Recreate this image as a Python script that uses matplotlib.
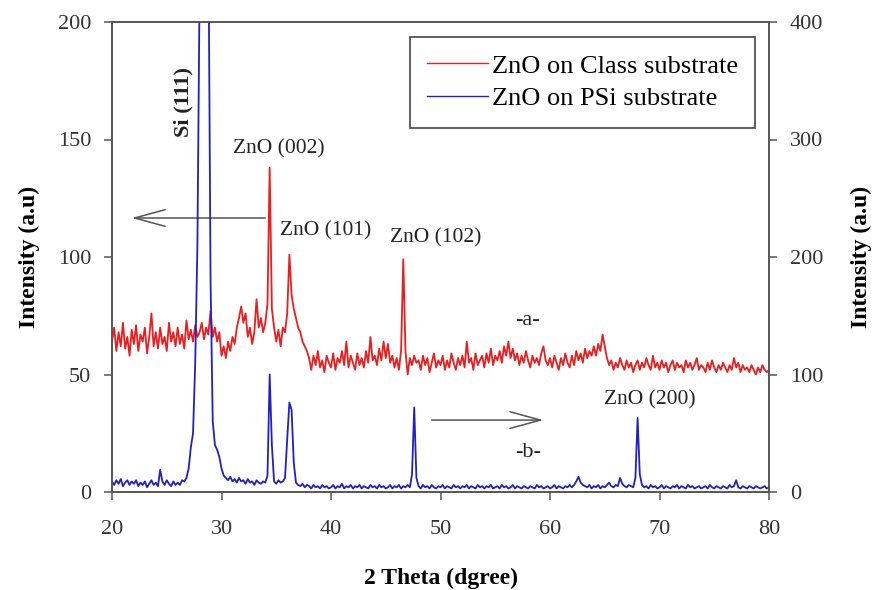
import numpy as np
import matplotlib
matplotlib.use("Agg")
import matplotlib.pyplot as plt

plt.rcParams['font.family'] = ['Liberation Serif', 'DejaVu Serif']

# 2 theta grid, 0.2 degree step from 20 to 80
two_theta = np.round(np.arange(20.0, 80.0001, 0.2), 1)

# ZnO on glass substrate (left axis)
glass = [
    64, 70, 60, 68, 62, 72, 61, 66, 58, 69,
    63, 71, 60, 67, 64, 70, 59, 66, 76, 62,
    68, 61, 70, 63, 66, 60, 72, 64, 68, 62,
    70, 63, 67, 61, 73, 65, 69, 64, 71, 66,
    68, 72, 65, 70, 67, 77, 66, 70, 64, 68,
    58, 62, 57, 64, 60, 66, 63, 70, 74, 79,
    72, 76, 66, 70, 63, 68, 82, 70, 74, 68,
    72, 80, 138, 78, 70, 64, 69, 62, 70, 68,
    76, 101, 84, 78, 74, 70, 68, 64, 62, 60,
    57, 52, 58, 54, 60, 53, 56, 51, 58, 55,
    53, 59, 52, 57, 55, 60, 54, 64, 53, 58,
    55, 52, 59, 54, 57, 53, 60, 55, 66, 56,
    58, 54, 61, 56, 64, 57, 63, 55, 58, 53,
    57, 52, 60, 99, 60, 50, 57, 54, 58, 55,
    56, 52, 58, 54, 57, 51, 55, 59, 53, 56,
    54, 58, 52, 56, 53, 59, 55, 52, 57, 54,
    58, 53, 64, 55, 57, 52, 59, 54, 56, 58,
    53, 59, 55, 61, 54, 58, 56, 60, 55, 62,
    58, 64, 57, 61, 56, 59, 54, 58, 55, 60,
    56, 53, 58, 55, 57, 54, 59, 62, 56, 54,
    57, 53, 58, 55, 52, 57, 54, 59, 55, 53,
    58, 54, 60, 56, 59, 55, 61, 57, 60, 58,
    62, 58, 63, 60, 67, 62, 57, 54, 56, 52,
    55, 53, 57, 54, 52, 56, 53, 55, 51, 54,
    56, 52, 55, 53, 57, 54, 52, 58, 53, 55,
    52, 56, 53, 55, 51, 54, 56, 52, 55, 53,
    54, 51, 56, 53, 55, 52, 54, 57, 52, 54,
    53, 51, 55, 52, 56, 53, 51, 54, 52, 55,
    53, 51, 54, 52, 57, 53, 55, 51, 54, 52,
    53, 51, 54, 52, 50, 53, 51, 54, 52, 51,
    52,
]

# ZnO on porous silicon substrate (right axis)
psi = [
    9, 6, 10, 7, 11, 5, 8, 10, 6, 9,
    7, 10, 5, 8, 6, 9, 4, 7, 10, 6,
    8, 5, 19, 9, 6, 10, 7, 5, 9, 6,
    8, 6, 10, 9, 12, 20, 38, 50, 110, 210,
    430, 700, 850, 760, 480, 180, 60, 40, 36, 30,
    20, 14, 12, 10, 13, 9, 11, 8, 12, 9,
    10, 7, 11, 8, 9, 6, 10, 8, 7, 9,
    8, 14, 100, 40, 9, 7, 10, 8, 9, 12,
    45, 76, 70, 25, 8, 6, 5, 7, 4, 6,
    5, 3, 6, 4, 5, 3, 6, 4, 5, 3,
    4, 6, 3, 5, 4, 7, 3, 5, 4, 6,
    3, 5, 4, 6, 3, 5, 4, 3, 6, 4,
    5, 3, 6, 4, 5, 3, 4, 6, 3, 5,
    4, 6, 3, 5, 4, 6, 4, 15, 72, 12,
    5, 3, 6, 4, 5, 3, 6, 4, 3, 5,
    4, 6, 3, 5, 4, 3, 6, 4, 5, 3,
    5, 4, 6, 3, 5, 4, 3, 6, 4, 5,
    3, 5, 4, 6, 3, 4, 5, 3, 6, 4,
    5, 3, 4, 6, 3, 5, 4, 3, 5, 4,
    3, 5, 4, 3, 6, 4, 5, 3, 4, 5,
    3, 4, 6, 3, 5, 4, 3, 5, 4, 6,
    4, 6, 9, 13, 8, 6, 5, 4, 6, 3,
    5, 4, 6, 3, 5, 4, 6, 8, 5, 4,
    6, 5, 12, 7, 5, 4, 6, 5, 4, 12,
    63, 15, 6, 4, 5, 3, 6, 4, 5, 3,
    4, 6, 3, 5, 4, 3, 5, 4, 6, 3,
    5, 4, 3, 6, 4, 5, 3, 4, 5, 3,
    4, 5, 3, 6, 4, 3, 5, 4, 3, 5,
    4, 3, 6, 4, 5, 10, 4, 3, 5, 4,
    3, 5, 4, 3, 5, 4, 3, 4, 5, 3,
    4,
]

# peak labels: (text, x, y on left axis)
peak_labels = [
    ("ZnO (002)", 35.2, 146),
    ("ZnO (101)", 39.5, 111),
    ("ZnO (102)", 49.6, 108),
    ("ZnO (200)", 69.1, 39),
]

RED = '#ee1c1c'
BLUE = '#2020c8'
AXC = '#555555'

fig = plt.figure(figsize=(8.77, 5.90), dpi=100)
ax = fig.add_axes([112 / 877, 1 - 492 / 590, 657 / 877, 470 / 590])
ax2 = ax.twinx()

l1, = ax.plot(two_theta, glass, color=RED, lw=1.3, label='ZnO on Class substrate')
l2, = ax2.plot(two_theta, psi, color=BLUE, lw=1.3, label='ZnO on PSi substrate')

ax.set_xlim(20, 80)
ax.set_ylim(0, 200)
ax2.set_ylim(0, 400)
ax.set_xticks(np.arange(20, 81, 10))
ax.set_yticks(np.arange(0, 201, 50))
ax2.set_yticks(np.arange(0, 401, 100))

for a in (ax, ax2):
    for s in a.spines.values():
        s.set_color(AXC)
        s.set_linewidth(1.2)
ax.tick_params(axis='both', direction='out', length=6, width=1.1, color=AXC,
               labelsize=16, labelcolor='#333333')
ax.tick_params(axis='y', pad=9)
ax.tick_params(axis='x', pad=14)
ax2.tick_params(axis='y', direction='out', length=6, width=1.1, color=AXC,
                labelsize=16, labelcolor='#333333', pad=9)

ax.set_xlabel('2 Theta (dgree)', fontsize=17, fontweight='bold', labelpad=21)
ax.set_ylabel('Intensity (a.u)', fontsize=17, fontweight='bold', labelpad=13)
ax2.set_ylabel('Intensity (a.u)', fontsize=17, fontweight='bold', labelpad=20)

for txt, x, y in peak_labels:
    ax.text(x, y, txt, fontsize=15.5, ha='center', va='center', color='#222222')
ax.text(26.5, 166, 'Si (111)', fontsize=16, fontweight='bold', rotation=90,
        ha='center', va='center', color='#222222')
ax.text(57.9, 73, '-a-', fontsize=16, ha='center', va='center', color='#222222')
ax.text(58.0, 17, '-b-', fontsize=16, ha='center', va='center', color='#222222')

arrow = dict(arrowstyle='->,head_length=1.1,head_width=0.3', color=AXC, lw=1.1,
             mutation_scale=20, shrinkA=0, shrinkB=0)
ax.annotate('', xy=(21.8, 116.6), xytext=(34.0, 116.6), arrowprops=arrow)
ax.annotate('', xy=(59.4, 30.6), xytext=(49.2, 30.6), arrowprops=arrow)

leg = ax2.legend(handles=[l1, l2], loc='upper right', bbox_to_anchor=(0.979, 0.968),
                 borderaxespad=0, fancybox=False, framealpha=1, fontsize=19,
                 handlelength=2.3, handletextpad=0.15, labelspacing=0.35,
                 borderpad=0.65)
leg.get_frame().set_edgecolor('#444444')
leg.get_frame().set_linewidth(1.2)
for h in leg.get_lines():
    h.set_linewidth(1.0)

fig.savefig('out.png', dpi=100)
